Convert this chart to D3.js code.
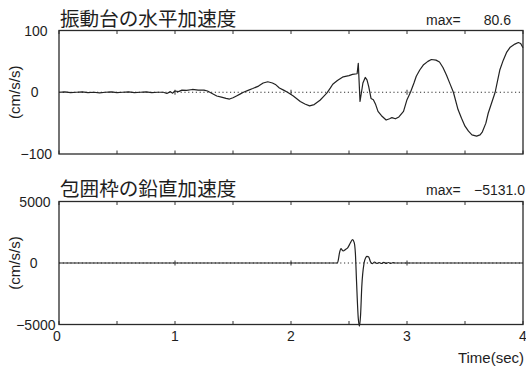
<!DOCTYPE html>
<html>
<head>
<meta charset="utf-8">
<script src="https://cdn.jsdelivr.net/npm/d3@7"></script>
<style>
  body { margin: 0; background: #fff; }
  text { font-family: "Liberation Sans", Arial, sans-serif; fill: #1e1e1e; }
  .jp { font-family: "Noto Sans CJK JP", sans-serif; }
</style>
</head>
<body>
<svg id="chart" width="526" height="369"></svg>
<script>
// shaking table horizontal acceleration (cm/s/s)
const tableTime = [0, 0.05, 0.1, 0.15, 0.2, 0.25, 0.3, 0.35, 0.4, 0.45, 0.5, 0.55, 0.6, 0.65, 0.7, 0.75, 0.8, 0.85, 0.9,
  0.93, 0.96, 0.98, 1.0, 1.03, 1.06, 1.1, 1.15, 1.2, 1.25, 1.28, 1.32, 1.36, 1.4, 1.44, 1.47, 1.5, 1.53, 1.56, 1.59,
  1.63, 1.67, 1.72, 1.76, 1.8, 1.84, 1.87, 1.9, 1.94, 1.97, 2.02, 2.08, 2.12, 2.16, 2.2, 2.25, 2.28, 2.31, 2.34, 2.36,
  2.4, 2.45, 2.5, 2.53, 2.57, 2.58, 2.595, 2.62, 2.64, 2.655, 2.67, 2.69, 2.71, 2.73, 2.75, 2.78, 2.82, 2.85, 2.87,
  2.9, 2.93, 2.97, 3.0, 3.03, 3.06, 3.08, 3.11, 3.14, 3.18, 3.21, 3.25, 3.28, 3.31, 3.34, 3.37, 3.4, 3.44, 3.47, 3.5,
  3.53, 3.56, 3.6, 3.63, 3.65, 3.68, 3.7, 3.73, 3.76, 3.78, 3.8, 3.83, 3.86, 3.89, 3.93, 3.96, 3.98, 4.0];
const tableAcc = [0, 0.5, -0.5, 0, 0.5, -0.5, 0, -1, 0, 0.5, -0.5, 0, 0.5, -0.5, 0, 0.5, -0.5, 0, 0,
  -2, 1, -1.5, 2, 1, 3.5, 3, 4.5, 3.5, 3.5, 2, -2, -6, -8, -10, -11, -9, -6, -3, 0,
  3, 6, 10, 15, 17, 15, 12, 7, 3, 0, -6, -15, -19, -22, -20, -13, -7, -1, 7, 13,
  19, 25, 27, 29, 30, 47, -15, 15, 24, 20, 9, -10, -12, -20, -31, -38, -45, -43, -41,
  -43, -40, -31, -12, 0, 15, 26, 36, 44, 50, 53, 52, 49, 40, 28, 14, 0, -28, -42, -55,
  -63, -69, -71, -69, -64, -50, -34, -17, 0, 18, 36, 52, 65, 73, 78, 80.6, 79, 72];

// enclosure frame vertical acceleration (cm/s/s)
const frameTime = [0, 0.5, 1.0, 1.5, 2.0, 2.4, 2.42, 2.43, 2.45, 2.47, 2.49, 2.51, 2.53, 2.545, 2.555, 2.565, 2.58,
  2.59, 2.6, 2.61, 2.63, 2.645, 2.655, 2.67, 2.685, 2.7, 2.72, 2.74, 2.76, 2.78, 2.8, 2.82, 2.84, 2.86, 2.88, 2.9, 3.2, 3.6, 4.0];
const frameAcc = [0, 0, 0, 0, 0, 0, 900, 1170, 975, 1100, 1250, 1600, 1900, 1660, 800, -1500, -4500,
  -5131, -4200, -1950, 0, 450, 545, 490, 100, -50, 80, -30, 40, -40, 50, -30, 40, -30, 30, 0, 0, 0, 0];

const xTicks = [0, 1, 2, 3, 4];
const xMinor = [0.5, 1.5, 2.5, 3.5];
const tableYTicks = [100, 0, -100];
const tableYLabels = ["100", "0", "\u2212100"];
const frameYTicks = [5000, 0, -5000];
const frameYLabels = ["5000", "0", "\u22125000"];

const svg = d3.select("#chart");
const x = d3.scaleLinear().domain([0, 4]).range([59, 523]);

function panel(cfg) {
  const y = d3.scaleLinear().domain(cfg.domain).range(cfg.range);
  const g = svg.append("g");

  // dotted zero line
  g.append("line")
    .attr("x1", x(0)).attr("x2", x(4)).attr("y1", y(0)).attr("y2", y(0))
    .attr("stroke", "#333").attr("stroke-width", 1).attr("stroke-dasharray", "1.2,2.6");

  // small ticks across the zero line at whole seconds
  g.selectAll(".zt").data([1, 2, 3]).enter().append("line")
    .attr("x1", d => x(d)).attr("x2", d => x(d))
    .attr("y1", y(0) - 2.5).attr("y2", y(0) + 2.5)
    .attr("stroke", "#333").attr("stroke-width", 1);

  // inward ticks on top and bottom edges
  const all = xTicks.concat(xMinor);
  [y.range()[0], y.range()[1]].forEach((edge, i) => {
    const dir = i === 0 ? -1 : 1;
    g.selectAll(null).data(all).enter().append("line")
      .attr("x1", d => x(d)).attr("x2", d => x(d))
      .attr("y1", edge).attr("y2", edge + dir * 3.5)
      .attr("stroke", "#333").attr("stroke-width", 1);
  });

  // trace
  const pts = cfg.time.map((t, i) => [t, cfg.values[i]]);
  const line = d3.line().x(d => x(d[0])).y(d => y(d[1])).curve(cfg.curve);
  g.append("path").datum(pts)
    .attr("d", line).attr("fill", "none")
    .attr("stroke", "#222").attr("stroke-width", 1.2).attr("stroke-linejoin", "round");

  // frame
  g.append("rect")
    .attr("x", x(0)).attr("y", y.range()[1])
    .attr("width", x(4) - x(0)).attr("height", y.range()[0] - y.range()[1])
    .attr("fill", "none").attr("stroke", "#2a2a2a").attr("stroke-width", 1.3);

  // y tick labels
  g.selectAll(".yl").data(cfg.yTicks).enter().append("text")
    .attr("x", (d, i) => cfg.labelX[i]).attr("y", d => y(d) + 5)
    .attr("text-anchor", "end").attr("font-size", 14)
    .text((d, i) => cfg.yLabels[i]);

  // y axis title
  g.append("text")
    .attr("transform", `translate(20,${y(0)}) rotate(-90)`)
    .attr("text-anchor", "middle").attr("font-size", 15)
    .text("(cm/s/s)");

  // panel title and max value
  g.append("text").attr("class", "jp")
    .attr("x", 60).attr("y", cfg.titleY).attr("font-size", 19.6)
    .text(cfg.title);
  g.append("text")
    .attr("x", 426).attr("y", cfg.titleY - 1).attr("font-size", 14)
    .text("max=");
  g.append("text")
    .attr("x", cfg.maxX).attr("y", cfg.titleY - 1).attr("font-size", 14)
    .attr("text-anchor", "end")
    .text(cfg.maxText);
  return y;
}

panel({
  domain: [-100, 100], range: [154, 30.5],
  time: tableTime, values: tableAcc, curve: d3.curveLinear,
  yTicks: tableYTicks, yLabels: tableYLabels, labelX: [47.5, 38.5, 52],
  title: "振動台の水平加速度", titleY: 26, maxText: "80.6", maxX: 511
});

panel({
  domain: [-5000, 5000], range: [324.5, 201.5],
  time: frameTime, values: frameAcc, curve: d3.curveMonotoneX,
  yTicks: frameYTicks, yLabels: frameYLabels, labelX: [50.5, 37.5, 55.5],
  title: "包囲枠の鉛直加速度", titleY: 196, maxText: "\u22125131.0", maxX: 525
});

// x tick labels (bottom panel only)
svg.selectAll(".xl").data(xTicks).enter().append("text")
  .attr("x", d => x(d) - (d === 0 ? 2 : 0)).attr("y", 341)
  .attr("text-anchor", "middle").attr("font-size", 14)
  .text(d => d);

svg.append("text")
  .attr("x", 524).attr("y", 363)
  .attr("text-anchor", "end").attr("font-size", 15)
  .text("Time(sec)");
</script>
</body>
</html>
